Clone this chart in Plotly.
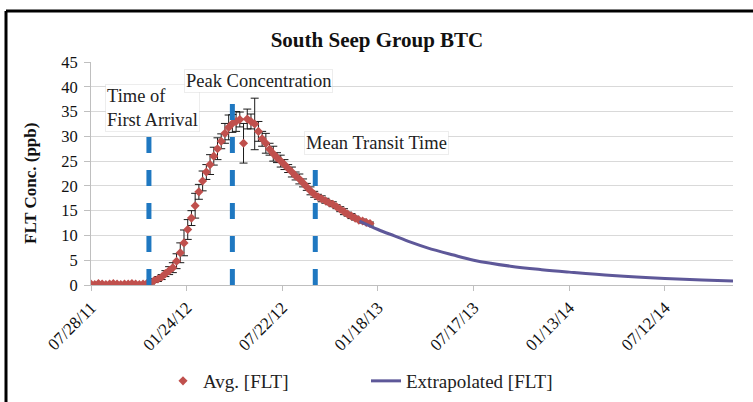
import plotly.graph_objects as go

# ---------------- data ----------------
sample_dates = [
    "2011-07-28", "2011-08-04", "2011-08-11", "2011-08-18", "2011-08-25", "2011-09-01",
    "2011-09-08", "2011-09-15", "2011-09-22", "2011-09-29", "2011-10-06", "2011-10-13",
    "2011-10-20", "2011-10-27", "2011-11-03", "2011-11-10", "2011-11-17", "2011-11-24",
    "2011-12-01", "2011-12-08", "2011-12-15", "2011-12-22", "2011-12-29", "2012-01-05",
    "2012-01-12", "2012-01-19", "2012-01-26", "2012-02-02", "2012-02-09", "2012-02-16",
    "2012-02-23", "2012-03-01", "2012-03-08", "2012-03-15", "2012-03-22", "2012-03-29",
    "2012-04-05", "2012-04-12", "2012-04-19", "2012-04-26", "2012-05-03", "2012-05-10",
    "2012-05-17", "2012-05-24", "2012-05-31", "2012-06-07", "2012-06-14", "2012-06-21",
    "2012-06-28", "2012-07-05", "2012-07-12", "2012-07-19", "2012-07-26", "2012-08-02",
    "2012-08-09", "2012-08-16", "2012-08-23", "2012-08-30", "2012-09-06", "2012-09-13",
    "2012-09-20", "2012-09-27", "2012-10-04", "2012-10-11", "2012-10-18", "2012-10-25",
    "2012-11-01", "2012-11-08", "2012-11-15", "2012-11-22", "2012-11-29", "2012-12-06",
    "2012-12-13", "2012-12-20", "2012-12-27", "2013-01-03",
]
avg_flt = [
    0.2, 0.1, 0.3, 0.2, 0.1, 0.2, 0.3, 0.2, 0.1, 0.2, 0.2, 0.3, 0.2, 0.1, 0.2, 0.3,
    0.5, 0.9, 1.2, 1.6, 2.3, 2.9, 3.5,
    4.8, 6.5, 8.5, 11.2, 13.5, 16.0, 18.8, 21.0,
    22.8, 24.3, 26.0, 27.5, 29.0, 30.6, 31.8, 32.6, 33.0, 33.4,
    28.6, 33.5, 33.0, 32.5, 31.0, 29.5, 28.6, 27.4, 26.5, 25.7, 25.0, 24.3, 23.5, 22.8,
    22.0, 21.4, 20.6, 19.8, 19.0, 18.3,
    17.8, 17.4, 17.0, 16.6, 16.3, 15.8, 15.3, 14.8, 14.3, 13.9, 13.5, 13.1, 12.9, 12.6, 12.4,
]
avg_err = [
    0.2, 0.2, 0.2, 0.2, 0.2, 0.2, 0.2, 0.2, 0.2, 0.2, 0.2, 0.2, 0.2, 0.2, 0.2, 0.2,
    0.3, 0.4, 0.5, 0.5, 0.6, 0.8, 1.0,
    1.5, 2.0, 2.6, 2.0, 1.5, 2.5, 1.5, 2.0,
    1.5, 2.0, 1.8, 2.2, 1.5, 2.0, 2.5, 1.8, 2.0, 1.5,
    4.0, 2.0, 1.5, 5.2, 2.0, 1.5, 2.0, 1.2, 1.5, 1.0, 1.2, 1.0, 0.8, 1.0,
    0.8, 1.0, 0.8, 0.7, 0.8, 0.6,
    0.5, 0.6, 0.5, 0.4, 0.5, 0.4, 0.5, 0.6, 0.4, 0.5, 0.4, 0.3, 0.4, 0.3, 0.3,
]

extrap_dates = [
    "2012-12-14", "2013-01-18", "2013-02-18", "2013-03-19", "2013-04-21", "2013-06-07",
    "2013-07-17", "2013-09-24", "2013-11-22", "2014-01-13", "2014-04-04", "2014-07-12",
    "2014-09-20", "2014-11-17",
]
extrap_flt = [12.9, 11.2, 9.9, 8.7, 7.5, 6.1, 5.0, 3.8, 3.1, 2.6, 1.9, 1.3, 1.0, 0.8]

marker_names = ["Time of First Arrival", "Peak Concentration", "Mean Transit Time"]
marker_dates = ["2011-11-14", "2012-04-19", "2012-09-22"]
marker_tops = [30.0, 36.5, 24.6]

tick_dates = ["2011-07-28", "2012-01-24", "2012-07-22", "2013-01-18",
              "2013-07-17", "2014-01-13", "2014-07-12"]
tick_labels = ["07/28/11", "01/24/12", "07/22/12", "01/18/13",
               "07/17/13", "01/13/14", "07/12/14"]
x_range = ["2011-07-28", "2014-11-17"]

# ---------------- layout constants ----------------
W, H = 753, 402
ML, MR, MT, MB = 91, 20, 62, 117
PW, PH = W - ML - MR, H - MT - MB
SERIF = "Liberation Serif"


def px_x(p):
    return (p - ML) / PW


def px_y(p):
    return (H - MB - p) / PH


fig = go.Figure()

fig.add_trace(go.Scatter(
    x=sample_dates, y=avg_flt, mode="markers", name="Avg. [FLT]",
    marker=dict(symbol="diamond", size=7, color="#C0504D"),
    error_y=dict(type="data", array=avg_err, visible=True,
                 color="#1a1a1a", thickness=1, width=4),
    legend="legend",
))

fig.add_trace(go.Scatter(
    x=extrap_dates, y=extrap_flt, mode="lines", name="Extrapolated [FLT]",
    line=dict(color="#5E5899", width=3, shape="spline"),
    legend="legend2",
))

for d, top in zip(marker_dates, marker_tops):
    fig.add_trace(go.Scatter(
        x=[d, d], y=[0, top], mode="lines", showlegend=False, hoverinfo="skip",
        line=dict(color="#1F78C1", width=5, dash="16px,17px"),
    ))

# text boxes
box = dict(bgcolor="white", bordercolor="rgba(0,0,0,0.07)", borderwidth=1,
           font=dict(family=SERIF, size=18.5, color="#222"), showarrow=False,
           xref="paper", yref="paper")
fig.add_annotation(text="Time of<br>First Arrival", x=px_x(105), y=px_y(108),
                   xanchor="left", yanchor="middle", align="left", **box)
fig.add_annotation(text="Peak Concentration", x=px_x(258), y=px_y(81),
                   xanchor="center", yanchor="middle", **box)
fig.add_annotation(text="Mean Transit Time", x=px_x(304), y=px_y(143),
                   xanchor="left", yanchor="middle", **box)

# y-axis title
fig.add_annotation(text="<b>FLT Conc. (ppb)</b>", textangle=-90, showarrow=False,
                   xref="paper", yref="paper", x=px_x(30), y=px_y(184),
                   xanchor="center", yanchor="middle",
                   font=dict(family=SERIF, size=17, color="#111"))

# chart frame (top and left edges visible)
fig.add_shape(type="line", xref="paper", yref="paper",
              x0=px_x(6), x1=px_x(760), y0=px_y(11), y1=px_y(11),
              line=dict(color="black", width=3))
fig.add_shape(type="line", xref="paper", yref="paper",
              x0=px_x(6), x1=px_x(6), y0=px_y(11), y1=px_y(410),
              line=dict(color="black", width=3))

legend_font = dict(family=SERIF, size=19, color="#222")
fig.update_layout(
    width=W, height=H,
    margin=dict(l=ML, r=MR, t=MT, b=MB, autoexpand=False),
    paper_bgcolor="white", plot_bgcolor="white",
    font=dict(family=SERIF, size=15, color="#111"),
    title=dict(text="<b>South Seep Group BTC</b>", xref="container", x=377 / W,
               xanchor="center", y=1 - 40 / H, yanchor="middle",
               font=dict(family=SERIF, size=21, color="#111")),
    showlegend=True,
    legend=dict(x=px_x(163), xanchor="left", y=px_y(381), yanchor="middle",
                font=legend_font, bgcolor="rgba(0,0,0,0)"),
    legend2=dict(x=px_x(366), xanchor="left", y=px_y(381), yanchor="middle",
                 font=legend_font, bgcolor="rgba(0,0,0,0)"),
    xaxis=dict(type="date", range=x_range, tickvals=tick_dates, ticktext=tick_labels,
               tickangle=-45, tickfont=dict(family=SERIF, size=17, color="#111"),
               showgrid=False, showline=True, linecolor="#bfbfbf", linewidth=1,
               ticks="outside", ticklen=5, tickcolor="#bfbfbf", zeroline=False,
               automargin=False),
    yaxis=dict(range=[0, 45], tickvals=list(range(0, 50, 5)),
               tickfont=dict(family=SERIF, size=16.5, color="#111"),
               showgrid=True, gridcolor="#d9d9d9", gridwidth=1,
               showline=True, linecolor="#bfbfbf", linewidth=1,
               ticks="outside", ticklen=6, tickcolor="#bfbfbf", zeroline=False,
               ticklabelstandoff=3, automargin=False),
)

fig.write_html("out.html",
               config={"displayModeBar": False},
               post_script="document.body.style.margin='0';"
                           "document.body.style.overflow='hidden';")
